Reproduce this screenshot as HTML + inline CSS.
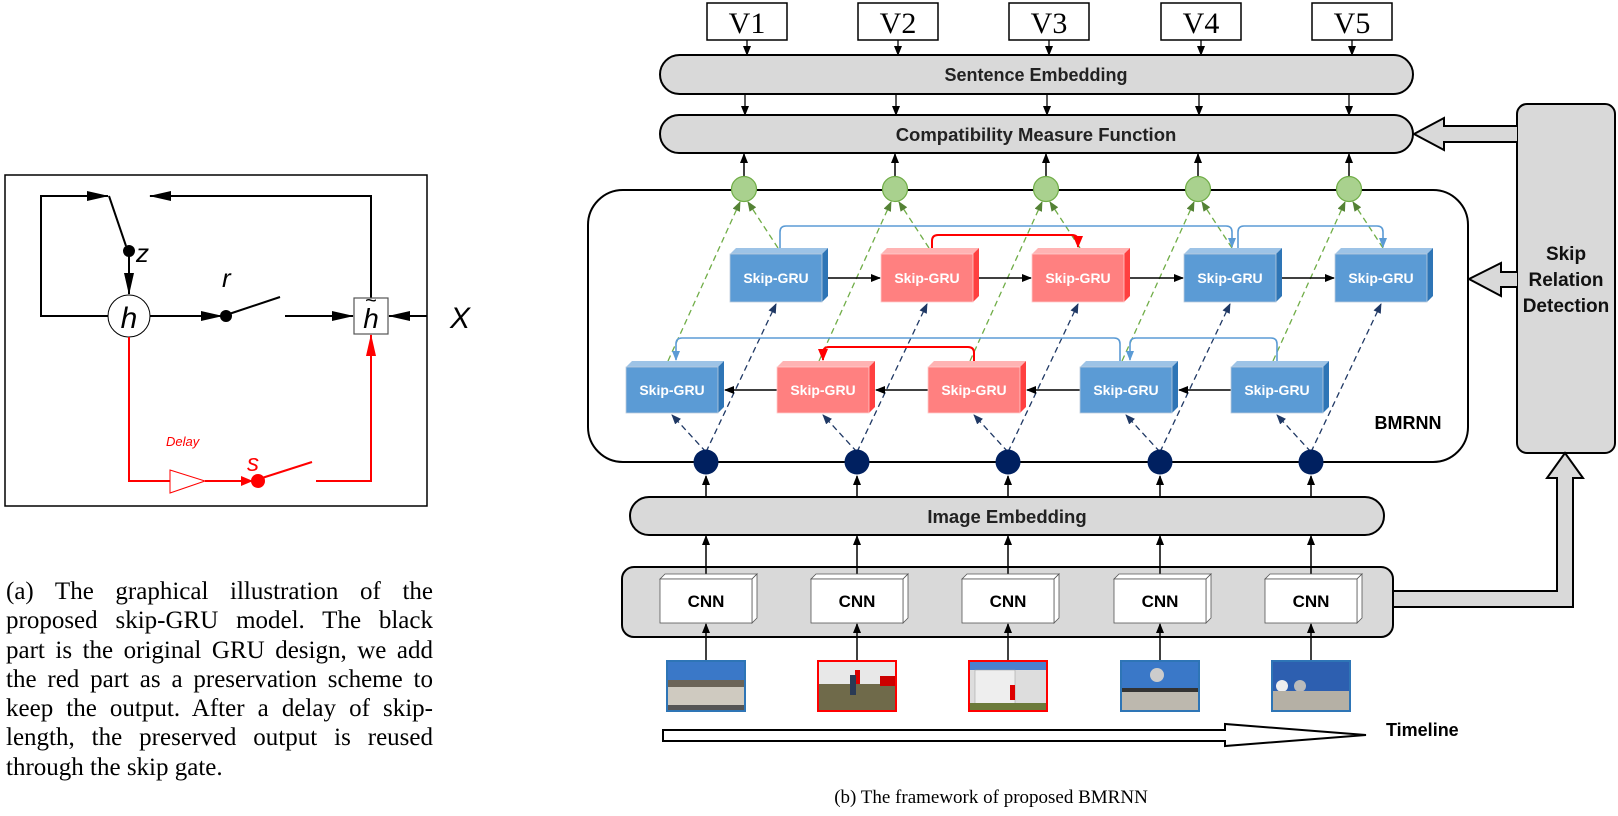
<!DOCTYPE html>
<html><head><meta charset="utf-8"><style>
html,body{margin:0;padding:0;background:#fff;}
body{width:1618px;height:816px;overflow:hidden;position:relative;}
.cap{position:absolute;left:6px;top:577px;width:427px;font-family:"Liberation Serif",serif;font-size:25px;line-height:29.3px;color:#000;}
.cap div{text-align:justify;text-align-last:justify;white-space:nowrap;}
.cap div.l{text-align-last:left;}
</style></head><body>
<svg width="1618" height="816" viewBox="0 0 1618 816" xmlns="http://www.w3.org/2000/svg" style="position:absolute;left:0;top:0">
<defs>
<marker id="ak" markerWidth="10" markerHeight="8" refX="9" refY="4" orient="auto" markerUnits="userSpaceOnUse"><path d="M0,0 L10,4 L0,8 z" fill="#000"/></marker>
<marker id="akb" markerWidth="22" markerHeight="10" refX="21" refY="5" orient="auto" markerUnits="userSpaceOnUse"><path d="M0,0 L22,5 L0,10 z" fill="#000"/></marker>
<marker id="ar" markerWidth="12" markerHeight="10" refX="11" refY="5" orient="auto" markerUnits="userSpaceOnUse"><path d="M0,0 L12,5 L0,10 z" fill="#f00"/></marker>
<marker id="arb" markerWidth="22" markerHeight="10" refX="21" refY="5" orient="auto" markerUnits="userSpaceOnUse"><path d="M0,0 L22,5 L0,10 z" fill="#f00"/></marker>
<marker id="ab" markerWidth="10" markerHeight="8" refX="9" refY="4" orient="auto" markerUnits="userSpaceOnUse"><path d="M0,0 L10,4 L0,8 z" fill="#5b9bd5"/></marker>
<marker id="ag" markerWidth="10" markerHeight="8" refX="9" refY="4" orient="auto" markerUnits="userSpaceOnUse"><path d="M0,0 L10,4 L0,8 z" fill="#548235"/></marker>
<marker id="an" markerWidth="10" markerHeight="8" refX="9" refY="4" orient="auto" markerUnits="userSpaceOnUse"><path d="M0,0 L10,4 L0,8 z" fill="#1f3864"/></marker>
</defs>

<rect x="5" y="175" width="422" height="331" fill="none" stroke="#000" stroke-width="1.5"/>
<g stroke="#000" stroke-width="2" fill="none">
<path d="M108 316 H41 V196 H108" marker-end="url(#akb)"/>
<line x1="109" y1="196" x2="126" y2="246"/>
<line x1="129" y1="251" x2="129" y2="294" marker-end="url(#akb)"/>
<line x1="150" y1="316" x2="222" y2="316" marker-end="url(#akb)"/>
<line x1="229" y1="314" x2="280" y2="297"/>
<line x1="285" y1="316" x2="353" y2="316" marker-end="url(#akb)"/>
<path d="M371 298 V196 H150" marker-end="url(#akb)"/>
<line x1="427" y1="316" x2="389" y2="316" marker-end="url(#akb)"/>
</g>
<circle cx="129" cy="251" r="6" fill="#000"/>
<circle cx="226" cy="316" r="6" fill="#000"/>
<circle cx="129" cy="316" r="21" fill="#fff" stroke="#000" stroke-width="1"/>
<text x="129" y="328" font-family="Liberation Sans,sans-serif" font-style="italic" font-size="30" text-anchor="middle">h</text>
<text x="136" y="262" font-family="Liberation Sans,sans-serif" font-style="italic" font-size="26">z</text>
<text x="222" y="287" font-family="Liberation Sans,sans-serif" font-style="italic" font-size="26">r</text>
<rect x="354" y="298" width="34" height="36" fill="#fff" stroke="#555" stroke-width="1.2"/>
<text x="371" y="328" font-family="Liberation Sans,sans-serif" font-style="italic" font-size="28" text-anchor="middle">h</text>
<text x="371" y="307" font-family="Liberation Sans,sans-serif" font-size="20" text-anchor="middle">~</text>
<text x="450" y="328" font-family="Liberation Sans,sans-serif" font-style="italic" font-size="30">X</text>
<g stroke="#f00" stroke-width="2" fill="none">
<path d="M129 337 V481 H170"/>
<path d="M170 470 L205 481 L170 493 Z" fill="#fff" stroke-width="1"/>
<line x1="205" y1="481" x2="252" y2="481" marker-end="url(#ar)"/>
<line x1="262" y1="478" x2="312" y2="462"/>
<path d="M316 481 H371 V335" marker-end="url(#arb)"/>
</g>
<circle cx="258" cy="481" r="7" fill="#f00"/>
<text x="166" y="446" font-family="Liberation Sans,sans-serif" font-style="italic" font-size="13" fill="#f00">Delay</text>
<text x="247" y="471" font-family="Liberation Sans,sans-serif" font-style="italic" font-size="24" fill="#f00">s</text>

<g font-family="Liberation Serif,serif" font-size="30" text-anchor="middle">
<rect x="707" y="3" width="80" height="37" fill="#fff" stroke="#000" stroke-width="1.5"/><text x="747" y="33">V1</text>
<rect x="858" y="3" width="80" height="37" fill="#fff" stroke="#000" stroke-width="1.5"/><text x="898" y="33">V2</text>
<rect x="1009" y="3" width="80" height="37" fill="#fff" stroke="#000" stroke-width="1.5"/><text x="1049" y="33">V3</text>
<rect x="1161" y="3" width="80" height="37" fill="#fff" stroke="#000" stroke-width="1.5"/><text x="1201" y="33">V4</text>
<rect x="1312" y="3" width="80" height="37" fill="#fff" stroke="#000" stroke-width="1.5"/><text x="1352" y="33">V5</text>
</g>
<g stroke="#000" stroke-width="1.3">
<line x1="747" y1="40" x2="747" y2="55" marker-end="url(#ak)"/>
<line x1="898" y1="40" x2="898" y2="55" marker-end="url(#ak)"/>
<line x1="1049" y1="40" x2="1049" y2="55" marker-end="url(#ak)"/>
<line x1="1201" y1="40" x2="1201" y2="55" marker-end="url(#ak)"/>
<line x1="1352" y1="40" x2="1352" y2="55" marker-end="url(#ak)"/>
<line x1="745" y1="94" x2="745" y2="115" marker-end="url(#ak)"/>
<line x1="896" y1="94" x2="896" y2="115" marker-end="url(#ak)"/>
<line x1="1047" y1="94" x2="1047" y2="115" marker-end="url(#ak)"/>
<line x1="1199" y1="94" x2="1199" y2="115" marker-end="url(#ak)"/>
<line x1="1349" y1="94" x2="1349" y2="115" marker-end="url(#ak)"/>
</g>
<rect x="660" y="55" width="753" height="39" rx="19.5" fill="#d9d9d9" stroke="#000" stroke-width="2"/>
<text x="1036" y="81" font-family="Liberation Sans,sans-serif" font-weight="bold" font-size="18" text-anchor="middle" fill="#222">Sentence Embedding</text>
<rect x="660" y="115" width="753" height="38" rx="19" fill="#d9d9d9" stroke="#000" stroke-width="2"/>
<text x="1036" y="141" font-family="Liberation Sans,sans-serif" font-weight="bold" font-size="18.5" text-anchor="middle" fill="#222">Compatibility Measure Function</text>

<rect x="1517" y="104" width="98" height="349" rx="10" fill="#d9d9d9" stroke="#000" stroke-width="2"/>
<g font-family="Liberation Sans,sans-serif" font-weight="bold" font-size="19" text-anchor="middle" fill="#111">
<text x="1566" y="260">Skip</text><text x="1566" y="286">Relation</text><text x="1566" y="312">Detection</text></g>
<path d="M1517 126 H1444 V118 L1414 134 L1444 150 V142 H1517" fill="#d9d9d9" stroke="#000" stroke-width="2"/>
<path d="M1517 272 H1501 V263 L1469 279 L1501 296 V287 H1517" fill="#d9d9d9" stroke="#000" stroke-width="2"/>
<path d="M1393 591 H1557 V478 H1547 L1565 453 L1583 478 H1573 V607 H1393" fill="#d9d9d9" stroke="#000" stroke-width="2"/>

<rect x="588" y="190" width="880" height="272" rx="35" fill="#fff" stroke="#000" stroke-width="2"/>
<text x="1408" y="429" font-family="Liberation Sans,sans-serif" font-weight="bold" font-size="18" text-anchor="middle">BMRNN</text>

<g stroke="#000" stroke-width="1.5">
<line x1="744" y1="176" x2="744" y2="154" marker-end="url(#ak)"/>
<line x1="895" y1="176" x2="895" y2="154" marker-end="url(#ak)"/>
<line x1="1046" y1="176" x2="1046" y2="154" marker-end="url(#ak)"/>
<line x1="1198" y1="176" x2="1198" y2="154" marker-end="url(#ak)"/>
<line x1="1349" y1="176" x2="1349" y2="154" marker-end="url(#ak)"/>
</g>

<g stroke="#70ad47" stroke-width="1.3" stroke-dasharray="6,4" fill="none">
<line x1="778" y1="248" x2="748" y2="202" marker-end="url(#ag)"/>
<line x1="929" y1="248" x2="899" y2="202" marker-end="url(#ag)"/>
<line x1="1080" y1="248" x2="1050" y2="202" marker-end="url(#ag)"/>
<line x1="1232" y1="248" x2="1202" y2="202" marker-end="url(#ag)"/>
<line x1="1383" y1="248" x2="1353" y2="202" marker-end="url(#ag)"/>
<line x1="668" y1="361" x2="740" y2="202" marker-end="url(#ag)"/>
<line x1="819" y1="361" x2="891" y2="202" marker-end="url(#ag)"/>
<line x1="970" y1="361" x2="1042" y2="202" marker-end="url(#ag)"/>
<line x1="1122" y1="361" x2="1194" y2="202" marker-end="url(#ag)"/>
<line x1="1273" y1="361" x2="1345" y2="202" marker-end="url(#ag)"/>
</g>
<g stroke="#1f3864" stroke-width="1.3" stroke-dasharray="6,4" fill="none">
<line x1="706" y1="452" x2="776" y2="304" marker-end="url(#an)"/>
<line x1="857" y1="452" x2="927" y2="304" marker-end="url(#an)"/>
<line x1="1008" y1="452" x2="1078" y2="304" marker-end="url(#an)"/>
<line x1="1160" y1="452" x2="1230" y2="304" marker-end="url(#an)"/>
<line x1="1311" y1="452" x2="1381" y2="304" marker-end="url(#an)"/>
<line x1="706" y1="452" x2="672" y2="415" marker-end="url(#an)"/>
<line x1="857" y1="452" x2="823" y2="415" marker-end="url(#an)"/>
<line x1="1008" y1="452" x2="974" y2="415" marker-end="url(#an)"/>
<line x1="1160" y1="452" x2="1126" y2="415" marker-end="url(#an)"/>
<line x1="1311" y1="452" x2="1277" y2="415" marker-end="url(#an)"/>
</g>

<g fill="#a9d18e" stroke="#70ad47" stroke-width="1.2">
<circle cx="744" cy="189" r="12.5"/><circle cx="895" cy="189" r="12.5"/><circle cx="1046" cy="189" r="12.5"/><circle cx="1198" cy="189" r="12.5"/><circle cx="1349" cy="189" r="12.5"/>
</g>
<g fill="#002060">
<circle cx="706" cy="462" r="12.5"/><circle cx="857" cy="462" r="12.5"/><circle cx="1008" cy="462" r="12.5"/><circle cx="1160" cy="462" r="12.5"/><circle cx="1311" cy="462" r="12.5"/>
</g>

<g fill="none" stroke-width="1.6">
<path d="M780 248 V232 Q780 226 786 226 H1226 Q1232 226 1232 232 V247" stroke="#5b9bd5" marker-end="url(#ab)"/>
<path d="M1238 248 V232 Q1238 226 1244 226 H1377 Q1383 226 1383 232 V247" stroke="#5b9bd5" marker-end="url(#ab)"/>
<path d="M932 248 V241 Q932 235 938 235 H1072 Q1078 235 1078 241 V247" stroke="#f00" stroke-width="2" marker-end="url(#ar)"/>
<path d="M1120 361 V344 Q1120 338 1114 338 H682 Q676 338 676 344 V360" stroke="#5b9bd5" marker-end="url(#ab)"/>
<path d="M1277 361 V344 Q1277 338 1271 338 H1136 Q1130 338 1130 344 V360" stroke="#5b9bd5" marker-end="url(#ab)"/>
<path d="M974 361 V353 Q974 347 968 347 H829 Q823 347 823 353 V360" stroke="#f00" stroke-width="2" marker-end="url(#ar)"/>
</g>

<g stroke="#000" stroke-width="1.5">
<line x1="828" y1="278" x2="880" y2="278" marker-end="url(#ak)"/>
<line x1="979" y1="278" x2="1031" y2="278" marker-end="url(#ak)"/>
<line x1="1130" y1="278" x2="1183" y2="278" marker-end="url(#ak)"/>
<line x1="1282" y1="278" x2="1334" y2="278" marker-end="url(#ak)"/>
<line x1="777" y1="390" x2="725" y2="390" marker-end="url(#ak)"/>
<line x1="928" y1="390" x2="876" y2="390" marker-end="url(#ak)"/>
<line x1="1080" y1="390" x2="1027" y2="390" marker-end="url(#ak)"/>
<line x1="1231" y1="390" x2="1179" y2="390" marker-end="url(#ak)"/>
</g>

<g font-family="Liberation Sans,sans-serif" font-weight="bold" font-size="14" fill="#fff" text-anchor="middle">
<g><polygon points="730,254 736,248 828,248 822,254" fill="#9dc3e6"/><polygon points="822,254 828,248 828,296 822,302" fill="#2e75b6"/><rect x="730" y="254" width="92" height="48" fill="#5b9bd5" stroke="#bcd" stroke-width="0.8"/><text x="776" y="283">Skip-GRU</text></g>
<g><polygon points="881,254 887,248 979,248 973,254" fill="#ffb3b3"/><polygon points="973,254 979,248 979,296 973,302" fill="#ff4040"/><rect x="881" y="254" width="92" height="48" fill="#ff8080" stroke="#fcc" stroke-width="0.8"/><text x="927" y="283">Skip-GRU</text></g>
<g><polygon points="1032,254 1038,248 1130,248 1124,254" fill="#ffb3b3"/><polygon points="1124,254 1130,248 1130,296 1124,302" fill="#ff4040"/><rect x="1032" y="254" width="92" height="48" fill="#ff8080" stroke="#fcc" stroke-width="0.8"/><text x="1078" y="283">Skip-GRU</text></g>
<g><polygon points="1184,254 1190,248 1282,248 1276,254" fill="#9dc3e6"/><polygon points="1276,254 1282,248 1282,296 1276,302" fill="#2e75b6"/><rect x="1184" y="254" width="92" height="48" fill="#5b9bd5" stroke="#bcd" stroke-width="0.8"/><text x="1230" y="283">Skip-GRU</text></g>
<g><polygon points="1335,254 1341,248 1433,248 1427,254" fill="#9dc3e6"/><polygon points="1427,254 1433,248 1433,296 1427,302" fill="#2e75b6"/><rect x="1335" y="254" width="92" height="48" fill="#5b9bd5" stroke="#bcd" stroke-width="0.8"/><text x="1381" y="283">Skip-GRU</text></g>
<g><polygon points="626,367 632,361 724,361 718,367" fill="#9dc3e6"/><polygon points="718,367 724,361 724,407 718,413" fill="#2e75b6"/><rect x="626" y="367" width="92" height="46" fill="#5b9bd5" stroke="#bcd" stroke-width="0.8"/><text x="672" y="395">Skip-GRU</text></g>
<g><polygon points="777,367 783,361 875,361 869,367" fill="#ffb3b3"/><polygon points="869,367 875,361 875,407 869,413" fill="#ff4040"/><rect x="777" y="367" width="92" height="46" fill="#ff8080" stroke="#fcc" stroke-width="0.8"/><text x="823" y="395">Skip-GRU</text></g>
<g><polygon points="928,367 934,361 1026,361 1020,367" fill="#ffb3b3"/><polygon points="1020,367 1026,361 1026,407 1020,413" fill="#ff4040"/><rect x="928" y="367" width="92" height="46" fill="#ff8080" stroke="#fcc" stroke-width="0.8"/><text x="974" y="395">Skip-GRU</text></g>
<g><polygon points="1080,367 1086,361 1178,361 1172,367" fill="#9dc3e6"/><polygon points="1172,367 1178,361 1178,407 1172,413" fill="#2e75b6"/><rect x="1080" y="367" width="92" height="46" fill="#5b9bd5" stroke="#bcd" stroke-width="0.8"/><text x="1126" y="395">Skip-GRU</text></g>
<g><polygon points="1231,367 1237,361 1329,361 1323,367" fill="#9dc3e6"/><polygon points="1323,367 1329,361 1329,407 1323,413" fill="#2e75b6"/><rect x="1231" y="367" width="92" height="46" fill="#5b9bd5" stroke="#bcd" stroke-width="0.8"/><text x="1277" y="395">Skip-GRU</text></g>
</g>

<g stroke="#000" stroke-width="1.5">
<line x1="706" y1="497" x2="706" y2="476" marker-end="url(#ak)"/>
<line x1="857" y1="497" x2="857" y2="476" marker-end="url(#ak)"/>
<line x1="1008" y1="497" x2="1008" y2="476" marker-end="url(#ak)"/>
<line x1="1160" y1="497" x2="1160" y2="476" marker-end="url(#ak)"/>
<line x1="1311" y1="497" x2="1311" y2="476" marker-end="url(#ak)"/>
</g>
<rect x="630" y="497" width="754" height="38" rx="19" fill="#d9d9d9" stroke="#000" stroke-width="2"/>
<text x="1007" y="523" font-family="Liberation Sans,sans-serif" font-weight="bold" font-size="18.5" text-anchor="middle" fill="#222">Image Embedding</text>

<rect x="622" y="567" width="771" height="70" rx="12" fill="#d9d9d9" stroke="#000" stroke-width="2"/>
<g stroke="#000" stroke-width="1.5">
<line x1="706" y1="579" x2="706" y2="536" marker-end="url(#ak)"/>
<line x1="857" y1="579" x2="857" y2="536" marker-end="url(#ak)"/>
<line x1="1008" y1="579" x2="1008" y2="536" marker-end="url(#ak)"/>
<line x1="1160" y1="579" x2="1160" y2="536" marker-end="url(#ak)"/>
<line x1="1311" y1="579" x2="1311" y2="536" marker-end="url(#ak)"/>
<line x1="706" y1="660" x2="706" y2="624" marker-end="url(#ak)"/>
<line x1="857" y1="660" x2="857" y2="624" marker-end="url(#ak)"/>
<line x1="1008" y1="660" x2="1008" y2="624" marker-end="url(#ak)"/>
<line x1="1160" y1="660" x2="1160" y2="624" marker-end="url(#ak)"/>
<line x1="1311" y1="660" x2="1311" y2="624" marker-end="url(#ak)"/>
</g>
<g font-family="Liberation Sans,sans-serif" font-weight="bold" font-size="17" text-anchor="middle" fill="#000" stroke="#555" stroke-width="0.8">
<g><polygon points="660,579 665,574 757,574 752,579" fill="#fff"/><polygon points="752,579 757,574 757,618 752,623" fill="#fff"/><rect x="660" y="579" width="92" height="44" fill="#fff"/><text x="706" y="607" stroke="none">CNN</text></g>
<g><polygon points="811,579 816,574 908,574 903,579" fill="#fff"/><polygon points="903,579 908,574 908,618 903,623" fill="#fff"/><rect x="811" y="579" width="92" height="44" fill="#fff"/><text x="857" y="607" stroke="none">CNN</text></g>
<g><polygon points="962,579 967,574 1059,574 1054,579" fill="#fff"/><polygon points="1054,579 1059,574 1059,618 1054,623" fill="#fff"/><rect x="962" y="579" width="92" height="44" fill="#fff"/><text x="1008" y="607" stroke="none">CNN</text></g>
<g><polygon points="1114,579 1119,574 1211,574 1206,579" fill="#fff"/><polygon points="1206,579 1211,574 1211,618 1206,623" fill="#fff"/><rect x="1114" y="579" width="92" height="44" fill="#fff"/><text x="1160" y="607" stroke="none">CNN</text></g>
<g><polygon points="1265,579 1270,574 1362,574 1357,579" fill="#fff"/><polygon points="1357,579 1362,574 1362,618 1357,623" fill="#fff"/><rect x="1265" y="579" width="92" height="44" fill="#fff"/><text x="1311" y="607" stroke="none">CNN</text></g>
</g>

<g>
<rect x="667" y="661" width="78" height="50" fill="#3a78c8" stroke="#2e75b6" stroke-width="2"/>
<rect x="668" y="680" width="76" height="30" fill="#6b6458"/><rect x="668" y="687" width="76" height="18" fill="#cfcac0"/><rect x="668" y="705" width="76" height="5" fill="#555"/>
<rect x="818" y="661" width="78" height="50" fill="#6f6a4a" stroke="#f00" stroke-width="2"/>
<rect x="819" y="662" width="76" height="22" fill="#e8e8e8"/><rect x="855" y="670" width="5" height="14" fill="#d00"/><rect x="880" y="676" width="15" height="10" fill="#c00"/><rect x="850" y="675" width="6" height="20" fill="#2a3a55"/>
<rect x="969" y="661" width="78" height="50" fill="#ddd" stroke="#f00" stroke-width="2"/>
<rect x="970" y="662" width="76" height="8" fill="#4a80d0"/><rect x="975" y="670" width="40" height="35" fill="#eee" stroke="#999" stroke-width="0.5"/><rect x="1010" y="685" width="5" height="15" fill="#d00"/><rect x="970" y="703" width="76" height="7" fill="#6b7a3a"/>
<rect x="1121" y="661" width="78" height="50" fill="#3a78c8" stroke="#2e75b6" stroke-width="2"/>
<circle cx="1157" cy="675" r="7" fill="#ccc"/><rect x="1122" y="690" width="76" height="20" fill="#bdb8ae"/><rect x="1122" y="688" width="76" height="4" fill="#333"/>
<rect x="1272" y="661" width="78" height="50" fill="#2d5fb0" stroke="#2e75b6" stroke-width="2"/>
<circle cx="1282" cy="686" r="6" fill="#eee"/><circle cx="1300" cy="686" r="6" fill="#bbb"/><rect x="1273" y="691" width="76" height="19" fill="#b5b0a5"/>
</g>

<path d="M663 730 H1225 V724 L1366 735 L1225 746 V741 H663 Z" fill="#fff" stroke="#000" stroke-width="2"/>
<text x="1386" y="736" font-family="Liberation Sans,sans-serif" font-weight="bold" font-size="18">Timeline</text>
<text x="991" y="803" font-family="Liberation Serif,serif" font-size="19" text-anchor="middle">(b) The framework of proposed BMRNN</text>
</svg>
<div class="cap">
<div>(a) The graphical illustration of the</div>
<div>proposed skip-GRU model. The black</div>
<div>part is the original GRU design, we add</div>
<div>the red part as a preservation scheme to</div>
<div>keep the output. After a delay of skip-</div>
<div>length, the preserved output is reused</div>
<div class="l">through the skip gate.</div>
</div>
</body></html>
